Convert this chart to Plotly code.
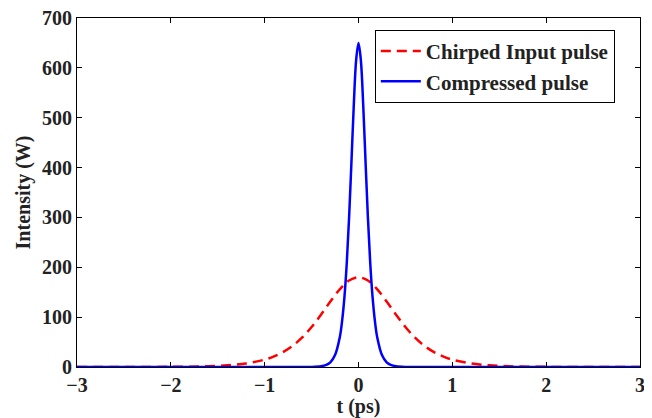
import plotly.graph_objects as go

t_input = [-3.0, -2.5, -2.0, -1.8, -1.6, -1.4, -1.2, -1.0, -0.9, -0.8, -0.7, -0.6, -0.5, -0.4, -0.3, -0.2, -0.1,
           0.0, 0.1, 0.2, 0.3, 0.4, 0.5, 0.6, 0.7, 0.8, 0.9, 1.0, 1.2, 1.4, 1.6, 1.8, 2.0, 2.5, 3.0]
p_input = [0.0, 0.03, 0.3, 0.7, 1.5, 3.3, 7.0, 14.8, 21.3, 30.4, 42.7, 59.2, 80.1, 104.8, 131.2, 155.7, 173.5,
           180.0, 173.5, 155.7, 131.2, 104.8, 80.1, 59.2, 42.7, 30.4, 21.3, 14.8, 7.0, 3.3, 1.5, 0.7, 0.3, 0.03, 0.0]

t_comp = [-3.0, -1.0, -0.6, -0.5, -0.4, -0.35, -0.3, -0.25, -0.2, -0.175, -0.15, -0.125, -0.1, -0.075, -0.05, -0.025,
          0.0, 0.025, 0.05, 0.075, 0.1, 0.125, 0.15, 0.175, 0.2, 0.25, 0.3, 0.35, 0.4, 0.5, 0.6, 1.0, 3.0]
p_comp = [0.0, 0.0, 0.03, 0.23, 1.5, 3.7, 9.4, 23.9, 59.1, 91.9, 140.0, 208.7, 301.0, 412.0, 526.5, 615.7,
          650.0, 615.7, 526.5, 412.0, 301.0, 208.7, 140.0, 91.9, 59.1, 23.9, 9.4, 3.7, 1.5, 0.23, 0.03, 0.0, 0.0]

x_ticks = [-3, -2, -1, 0, 1, 2, 3]
y_ticks = [0, 100, 200, 300, 400, 500, 600, 700]

font = "Liberation Serif"
ink = "#222222"

fig = go.Figure()
fig.add_trace(go.Scatter(x=t_input, y=p_input, name="Chirped Input pulse", mode="lines",
                         line=dict(color="#ff0000", width=2.5, dash="10px,6px", shape="spline")))
fig.add_trace(go.Scatter(x=t_comp, y=p_comp, name="Compressed pulse", mode="lines",
                         line=dict(color="#0000ff", width=2.5, shape="spline")))

axis_common = dict(showgrid=False, zeroline=False, showline=True, linecolor="black", linewidth=1,
                   mirror="ticks", ticks="inside", ticklen=5, tickcolor="black", automargin=False,
                   ticklabeloverflow="allow",
                   tickfont=dict(family=font, size=20, color=ink, weight="bold"))

# page body has an 8px margin, so the figure is drawn 8px smaller to fit the window
fig.update_layout(
    width=644, height=410,
    margin=dict(l=69, r=12, t=10, b=51),
    paper_bgcolor="white", plot_bgcolor="white",
    showlegend=True,
    legend=dict(x=0.529, y=0.966, xanchor="left", yanchor="top",
                bordercolor="black", borderwidth=1, bgcolor="white",
                font=dict(family=font, size=21, color=ink, weight="bold"),
                tracegroupgap=0, itemwidth=40),
    xaxis=dict(range=[-3, 3], tickvals=x_ticks,
               title=dict(text="t (ps)", font=dict(family=font, size=20, color=ink, weight="bold"), standoff=0),
               **axis_common),
    yaxis=dict(range=[0, 700], tickvals=y_ticks,
               title=dict(text="Intensity (W)", font=dict(family=font, size=20, color=ink, weight="bold"), standoff=6),
               **axis_common),
)

fig.write_html("out.html")
